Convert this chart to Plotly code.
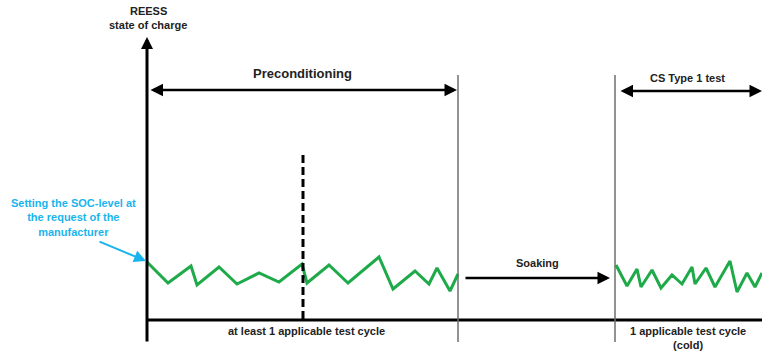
import plotly.graph_objects as go

# time axis runs left->right, SOC axis is drawn top-down (pixel-like units)
precond_t = [147, 168, 191, 197, 219, 237, 259, 279, 302, 307, 329, 348, 379, 393, 415, 429, 437, 450, 458]
precond_soc = [262, 283, 266, 285, 267, 284, 273, 282, 264, 283, 265, 283, 257, 289, 271, 284, 268, 291, 274]
cs_t = [616, 627, 637, 641, 652, 661, 672, 682, 692, 695, 706, 715, 730, 737, 747, 755, 762]
cs_soc = [265, 286, 269, 287, 270, 288, 275, 284, 267, 284, 268, 287, 261, 292, 273, 287, 273]

phase_bounds = [458, 615]
cycle_split = 303

axis_title = ["REESS", "state of charge"]
phase_labels = ["Preconditioning", "Soaking", "CS Type 1 test"]
cycle_labels = ["at least 1 applicable test cycle", "1 applicable test cycle<br>(cold)"]
soc_note = "Setting the SOC-level at<br>the request of the<br>manufacturer"

GREEN = "#1faa4a"
BLUE = "#1ab4ec"
FONT = "Liberation Sans, Arial, sans-serif"

fig = go.Figure()

for t, soc in [(precond_t, precond_soc), (cs_t, cs_soc)]:
    fig.add_trace(
        go.Scatter(
            x=t,
            y=soc,
            mode="lines",
            line={"color": GREEN, "width": 3},
            hoverinfo="skip",
        )
    )

shapes = [
    # time axis
    dict(type="line", x0=147, x1=762, y0=320, y1=320, line={"color": "black", "width": 3}),
    # dashed split between test cycles
    dict(type="line", x0=cycle_split, x1=cycle_split, y0=155, y1=320,
         line={"color": "black", "width": 3, "dash": "8px,4px"}),
]
for xb in phase_bounds:
    shapes.append(
        dict(type="line", x0=xb, x1=xb, y0=75, y1=342, line={"color": "#6e6e6e", "width": 1.5})
    )
fig.update_layout(shapes=shapes)


def arrow(x, y, ax, ay, color="black", width=2.5, both=False, size=1.1):
    fig.add_annotation(
        x=x, y=y, ax=ax, ay=ay, xref="x", yref="y", axref="x", ayref="y",
        text="", showarrow=True, arrowhead=2, arrowsize=size, arrowwidth=width,
        arrowcolor=color, arrowside="end+start" if both else "end", standoff=0,
        startstandoff=0,
    )


def label(x, y, txt, size=11, color="#222222"):
    fig.add_annotation(
        x=x, y=y, xref="x", yref="y", text=f"<b>{txt}</b>", showarrow=False,
        font={"family": FONT, "size": size, "color": color}, align="center",
    )


# SOC axis with arrow at top
arrow(147, 37, 147, 343, width=3, size=0.8)
# phase arrows
arrow(457, 90, 149, 90, both=True, size=1.0)
arrow(762, 91, 619, 91, both=True, size=1.0)
arrow(610, 278, 464, 278, size=1.0)
# note arrow
arrow(146, 261, 98, 241, color=BLUE, width=2, size=1.2)

label(148, 11, axis_title[0])
label(148, 25, axis_title[1])
label(302, 73, phase_labels[0], size=13)
label(537, 263, phase_labels[1])
label(687, 78, phase_labels[2])
label(306, 331, cycle_labels[0])
label(688, 338, cycle_labels[1])
label(73, 217, soc_note, color=BLUE)

fig.update_xaxes(range=[0, 762], visible=False, fixedrange=True)
fig.update_yaxes(range=[352, 0], visible=False, fixedrange=True)
fig.update_layout(
    width=762,
    height=352,
    margin={"l": 0, "r": 0, "t": 0, "b": 0},
    plot_bgcolor="white",
    paper_bgcolor="white",
    showlegend=False,
)

# drop the browser's default body margin so the figure fills the window
fig.write_html(
    "out.html",
    config={"displayModeBar": False},
    post_script="document.body.style.margin='0';document.body.style.overflow='hidden';",
)
